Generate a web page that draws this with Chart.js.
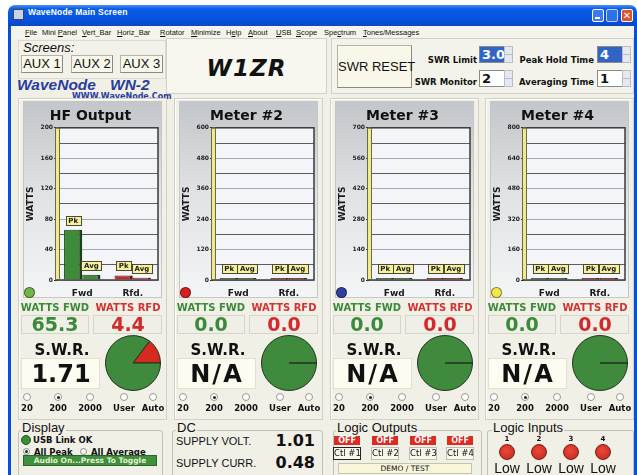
<!DOCTYPE html>
<html>
<head>
<meta charset="utf-8">
<title>WaveNode Main Screen</title>
<script src="https://cdn.jsdelivr.net/npm/chart.js@4.4.1/dist/chart.umd.min.js"></script>
<style>
  body { margin:0; width:637px; height:475px; overflow:hidden; background:#fff; position:relative;
         font-family:"DejaVu Sans", sans-serif; color:#111; }
  .a { position:absolute; box-sizing:border-box; white-space:nowrap; }
  .btn { background:#f9f7e9; border:1px solid #b4b2a4; border-right-color:#8c8a80; border-bottom-color:#8c8a80;
         text-align:center; font-family:"Liberation Sans", sans-serif; }
  .grp { border:1px solid #c4c1b4; border-radius:3px; }
  .grp-t { background:#f1f0e7; padding:0 1px; font-family:"Liberation Sans", sans-serif; font-size:13px; line-height:14px; }
  .spin { border:1px solid #8d8b80; border-right:none; font-weight:bold; font-size:13px; line-height:15px; padding-left:2px; }
  .arr { width:9px; height:17px; background:#e6e8f0; border:1px solid #b8bccb; }
  .arr:after { content:""; position:absolute; left:0; top:7px; width:7px; border-top:1px solid #b8bccb; }
  .menu { font-family:"Liberation Sans", sans-serif; font-size:7.5px; top:28px; line-height:10px; }
  .menu u { text-decoration:underline; }
</style>
</head>
<body>

<!-- marco de la ventana -->
<div class="a" style="left:8px;top:5px;width:629px;height:21px;border-radius:7px 7px 0 0;background:linear-gradient(#4a90f6 0%,#0c5de8 18%,#0653de 65%,#0a49c6 100%)"></div>
<div class="a" style="left:8px;top:26px;width:3px;height:449px;background:#0b4fd6"></div>
<div class="a" style="left:634px;top:26px;width:3px;height:449px;background:#0b4fd6"></div>
<div class="a" style="left:11px;top:26px;width:623px;height:449px;background:#f1f0e7"></div>
<div class="a" style="left:13px;top:9px;width:11px;height:11px;background:#c9d3e8;border:1px solid #445"></div>
<div class="a" style="left:28px;top:7px;line-height:16px;color:#fff;font:bold 8.5px 'Liberation Sans',sans-serif;letter-spacing:0.2px">WaveNode Main Screen</div>
<div class="a" style="left:592px;top:9px;width:12px;height:13px;border:1px solid #fff;border-radius:2px;background:#3a7cf0"></div>
<div class="a" style="left:595px;top:17px;width:5px;height:2px;background:#fff"></div>
<div class="a" style="left:606px;top:9px;width:12px;height:13px;border:1px solid #fff;border-radius:2px;background:#3a7cf0;opacity:.75"></div>
<div class="a" style="left:621px;top:9px;width:12px;height:13px;border:1px solid #fff;border-radius:2px;background:#e0502a;color:#fff;font:bold 10px 'DejaVu Sans';line-height:11px;text-align:center">✕</div>

<!-- barra de menu -->
<div class="a" style="left:11px;top:26px;width:623px;height:13px;background:#f5f4ec"></div>
<div class="a menu" style="left:25px"><u>F</u>ile</div>
<div class="a menu" style="left:42px">Mini <u>P</u>anel</div>
<div class="a menu" style="left:82px"><u>V</u>ert_Bar</div>
<div class="a menu" style="left:117px"><u>H</u>oriz_Bar</div>
<div class="a menu" style="left:160px"><u>R</u>otator</div>
<div class="a menu" style="left:191px"><u>M</u>inimize</div>
<div class="a menu" style="left:226px">H<u>e</u>lp</div>
<div class="a menu" style="left:248px"><u>A</u>bout</div>
<div class="a menu" style="left:276px"><u>U</u>SB</div>
<div class="a menu" style="left:296px"><u>S</u>cope</div>
<div class="a menu" style="left:324px">Spe<u>c</u>trum</div>
<div class="a menu" style="left:363px"><u>T</u>ones/Messages</div>

<!-- cabecera -->
<div class="a" style="left:18px;top:40px;width:148px;height:39px;border:1px solid #dddbd0;background:#f3f2ea"></div>
<div class="a" style="left:23px;top:41px;font:italic 13px 'Liberation Sans',sans-serif;line-height:14px">Screens:</div>
<div class="a btn" style="left:21px;top:55px;width:42px;height:18px;font-size:13px;line-height:16px">AUX 1</div>
<div class="a btn" style="left:71px;top:55px;width:42px;height:18px;font-size:13px;line-height:16px">AUX 2</div>
<div class="a btn" style="left:120px;top:55px;width:43px;height:18px;font-size:13px;line-height:16px">AUX 3</div>
<div class="a" style="left:17px;top:76px;font:italic bold 15.5px 'Liberation Sans',sans-serif;line-height:18px;color:#2a3c9e">WaveNode</div>
<div class="a" style="left:110px;top:76px;font:italic bold 15.5px 'Liberation Sans',sans-serif;line-height:18px;color:#2a3c9e">WN-2</div>
<div class="a" style="left:72px;top:92px;font:bold 8px 'DejaVu Sans',sans-serif;line-height:10px;color:#2a3c9e">WWW.WaveNode.Com</div>

<div class="a" style="left:166px;top:38px;width:161px;height:56px;border:1px solid #d2d0c4;background:#f7f6ef"></div>
<div class="a" style="left:166px;top:54px;width:161px;text-align:center;font:italic bold 23px 'DejaVu Sans',sans-serif;line-height:28px;letter-spacing:1px">W1ZR</div>

<div class="a" style="left:331px;top:38px;width:303px;height:56px;border:1px solid #d2d0c4;background:#f4f3eb"></div>
<div class="a btn" style="left:337px;top:45px;width:75px;height:43px;font-size:13px;line-height:41px">SWR RESET</div>
<div class="a" style="left:377px;top:53px;width:100px;text-align:right;font:bold 8.5px 'DejaVu Sans';line-height:14px">SWR Limit</div>
<div class="a" style="left:377px;top:75px;width:100px;text-align:right;font:bold 8.5px 'DejaVu Sans';line-height:14px">SWR Monitor</div>
<div class="a" style="left:494px;top:53px;width:100px;text-align:right;font:bold 8.5px 'DejaVu Sans';line-height:14px">Peak Hold Time</div>
<div class="a" style="left:494px;top:75px;width:100px;text-align:right;font:bold 8.5px 'DejaVu Sans';line-height:14px">Averaging Time</div>
<div class="a spin" style="left:479px;top:46px;width:25px;height:17px;background:#3264c8;color:#fff">3.0</div>
<div class="a arr" style="left:504px;top:46px"></div>
<div class="a spin" style="left:597px;top:46px;width:25px;height:17px;background:#3264c8;color:#fff">4</div>
<div class="a arr" style="left:622px;top:46px"></div>
<div class="a spin" style="left:479px;top:70px;width:25px;height:17px;background:#fff">2</div>
<div class="a arr" style="left:504px;top:70px"></div>
<div class="a spin" style="left:597px;top:70px;width:25px;height:17px;background:#fff">1</div>
<div class="a arr" style="left:622px;top:70px"></div>

<!-- Display -->
<div class="a grp" style="left:18px;top:430px;width:145px;height:50px"></div>
<div class="a grp-t" style="left:21px;top:421px">Display</div>
<div class="a" style="left:21px;top:435px;width:10px;height:10px;border-radius:50%;background:#3c8c3a;border:1px solid #24521f"></div>
<div class="a" style="left:33px;top:434px;font:bold 8.5px 'DejaVu Sans';line-height:12px">USB Link OK</div>
<div class="a" style="left:23px;top:448px;width:7px;height:7px;border-radius:50%;background:#fff;border:1px solid #8a887c"></div>
<div class="a" style="left:25px;top:450px;width:3px;height:3px;border-radius:50%;background:#222"></div>
<div class="a" style="left:34px;top:446px;font:bold 8.5px 'DejaVu Sans';line-height:12px">All Peak</div>
<div class="a" style="left:80px;top:448px;width:7px;height:7px;border-radius:50%;background:#fff;border:1px solid #8a887c"></div>
<div class="a" style="left:91px;top:446px;font:bold 8.5px 'DejaVu Sans';line-height:12px">All Average</div>
<div class="a" style="left:23px;top:455px;width:134px;height:11px;background:#3f8f3c;border:1px solid #2a652a;color:#e6f0d2;text-align:center;font:bold 7.5px 'DejaVu Sans';line-height:9px">Audio On...Press To Toggle</div>

<!-- DC -->
<div class="a grp" style="left:172px;top:430px;width:151px;height:50px"></div>
<div class="a grp-t" style="left:176px;top:421px">DC</div>
<div class="a" style="left:176px;top:434px;font:11px 'Liberation Sans',sans-serif;line-height:14px">SUPPLY VOLT.</div>
<div class="a" style="left:215px;top:431px;width:100px;text-align:right;font:bold 16px 'DejaVu Sans';line-height:20px">1.01</div>
<div class="a" style="left:176px;top:456px;font:11px 'Liberation Sans',sans-serif;line-height:14px">SUPPLY CURR.</div>
<div class="a" style="left:215px;top:453px;width:100px;text-align:right;font:bold 16px 'DejaVu Sans';line-height:20px">0.48</div>

<!-- Logic Outputs -->
<div class="a grp" style="left:333px;top:430px;width:149px;height:50px"></div>
<div class="a grp-t" style="left:336px;top:421px">Logic Outputs</div>
<div class="a" style="left:338px;top:463px;width:134px;height:11px;background:#f9f6dc;border:1px solid #c8c4a8;text-align:center;font:7.5px 'DejaVu Sans';line-height:9px">DEMO / TEST</div>

<!-- Logic Inputs -->
<div class="a grp" style="left:487px;top:430px;width:147px;height:50px"></div>
<div class="a grp-t" style="left:492px;top:421px">Logic Inputs</div>

<script>
// Datos de los medidores
const meterTitles = ["HF Output", "Meter #2", "Meter #3", "Meter #4"];
const categories = ["Fwd", "Rfd."];
const scaleMax = [200, 600, 700, 800];
const peakFwd = [66, 0, 0, 0];
const peakRfd = [6, 0, 0, 0];
const avgFwd = [7, 0, 0, 0];
const avgRfd = [3, 0, 0, 0];
const wattsFwd = ["65.3", "0.0", "0.0", "0.0"];
const wattsRfd = ["4.4", "0.0", "0.0", "0.0"];
const swrText = ["1.71", "N/A", "N/A", "N/A"];
const swrWedge = [53, 0, 0, 0];      // grados en rojo del indicador SWR
const rangeLabels = ["20", "200", "2000", "User", "Auto"];
const rangeSelected = 1;
const outputStates = ["OFF", "OFF", "OFF", "OFF"];
const outputNames = ["Ctl #1", "Ctl #2", "Ctl #3", "Ctl #4"];
const inputNames = ["1", "2", "3", "4"];
const inputStates = ["Low", "Low", "Low", "Low"];

const panelLeft = [23, 179, 335, 490];
const dotColors = ["#72b646", "#d82020", "#2f40a0", "#f2e84c"];
const barFill = ["#3e8b3a", "#c4282a"];
const barEdge = ["#1d401b", "#5e1010"];

function el(css, html) {
  const d = document.createElement("div");
  d.className = "a";
  d.style.cssText = css;
  if (html !== undefined) d.innerHTML = html;
  document.body.appendChild(d);
  return d;
}

// y = centro vertical del texto
function txt(x, y, text, css, align) {
  let pos = "left:" + x + "px;";
  if (align === "c") pos = "left:" + (x - 100) + "px;width:200px;text-align:center;";
  if (align === "r") pos = "left:" + (x - 200) + "px;width:200px;text-align:right;";
  return el(pos + "top:" + (y - 12) + "px;height:24px;" + css + ";line-height:24px;", text);
}

// Fondo del area de graficos y etiquetas Pk/Avg
const framePlugin = {
  id: "frame",
  beforeDraw(chart) {
    const { ctx, chartArea: a } = chart;
    if (chart.config.type !== "bar") return;
    ctx.save();
    ctx.fillStyle = "#f3f5f9";
    ctx.fillRect(a.left, a.top, a.right - a.left, a.bottom - a.top);
    ctx.restore();
  },
  afterDraw(chart) {
    const { ctx, chartArea: a } = chart;
    if (chart.config.type !== "bar") return;
    ctx.save();
    ctx.strokeStyle = "#3a3a3a";
    ctx.lineWidth = 1.5;
    ctx.strokeRect(a.left, a.top, a.right - a.left, a.bottom - a.top);
    ctx.fillStyle = "#f2ea8a";
    ctx.fillRect(a.left - 1, a.top, 3, a.bottom - a.top);
    ctx.strokeStyle = "#6a6a50";
    ctx.lineWidth = 1;
    ctx.strokeRect(a.left - 1.5, a.top + 0.5, 4, a.bottom - a.top - 1);
    ctx.restore();
  },
  afterDatasetsDraw(chart) {
    if (chart.config.type !== "bar") return;
    const ctx = chart.ctx;
    ctx.save();
    ctx.font = "bold 7px 'DejaVu Sans'";
    ctx.textAlign = "center";
    ctx.textBaseline = "middle";
    chart.data.datasets.forEach((ds, i) => {
      chart.getDatasetMeta(i).data.forEach(bar => {
        const w = Math.round(ctx.measureText(ds.label).width + 5);
        const h = 9;
        const x = Math.round(bar.x - w / 2) + 0.5;
        const y = Math.round(bar.y - 5 - h) + 0.5;
        ctx.fillStyle = "#f7f09c";
        ctx.fillRect(x, y, w, h);
        ctx.strokeStyle = "#4a4a30";
        ctx.strokeRect(x, y, w, h);
        ctx.fillStyle = "#1a1a1a";
        ctx.fillText(ds.label, bar.x, y + h / 2 + 0.5);
      });
    });
    ctx.restore();
  }
};
Chart.register(framePlugin);

const fontTick = { family: "DejaVu Sans", weight: "bold", size: 6 };

for (let i = 0; i < 4; i++) {
  const px = panelLeft[i];
  const off = px - 23;

  // marco de la columna y panel del grafico
  el("left:" + (px - 5) + "px;top:98px;width:149px;height:322px;border:1px solid #d2d0c4;box-shadow:inset 1px 1px 0 #fff");
  el("left:" + px + "px;top:101px;width:139px;height:197px;border:1px solid #c4c6c8;background:linear-gradient(#c3c6ca 0%,#dfe1e3 45%,#f4f5f6 100%)");

  const cv = document.createElement("canvas");
  cv.width = 139; cv.height = 196;
  cv.style.cssText = "position:absolute;left:" + px + "px;top:102px;";
  document.body.appendChild(cv);

  new Chart(cv, {
    type: "bar",
    data: {
      labels: categories,
      datasets: [
        { label: "Pk", data: [peakFwd[i], peakRfd[i]], backgroundColor: barFill, borderColor: barEdge,
          borderWidth: { top: 1, left: 1, right: 3, bottom: 0 }, borderSkipped: "start" },
        { label: "Avg", data: [avgFwd[i], avgRfd[i]], backgroundColor: barFill, borderColor: barEdge,
          borderWidth: { top: 1, left: 1, right: 3, bottom: 0 }, borderSkipped: "start" }
      ]
    },
    options: {
      responsive: false,
      animation: false,
      events: [],
      layout: { padding: { left: 0, right: 4, top: 0, bottom: 0 } },
      datasets: { bar: { barPercentage: 1, categoryPercentage: 0.72, minBarLength: 2 } },
      plugins: {
        legend: { display: false },
        tooltip: { enabled: false },
        title: { display: true, text: meterTitles[i], color: "#111",
                 font: { family: "DejaVu Sans", weight: "bold", size: 14 }, padding: { top: 6, bottom: 3 } }
      },
      scales: {
        x: {
          grid: { display: false },
          border: { display: false },
          ticks: { color: "#1a1a1a", font: { family: "DejaVu Sans", weight: "bold", size: 9 }, padding: 0 },
          afterFit: s => { s.height = 18; }
        },
        y: {
          min: 0,
          max: scaleMax[i],
          border: { display: false },
          ticks: { stepSize: scaleMax[i] / 10, autoSkip: false, color: "#222", font: fontTick, padding: 1,
                   callback: (v, k) => (k % 2 ? "" : v) },
          grid: { color: c => (c.index % 2 ? "#5c5c5c" : "#a6aaae"), tickLength: 3,
                  tickColor: c => (c.index % 2 ? "rgba(0,0,0,0)" : "#333") },
          title: { display: true, text: "WATTS", color: "#1a1a1a",
                   font: { family: "DejaVu Sans", weight: "bold", size: 9 }, padding: { top: 2, bottom: 0 } },
          afterFit: s => { s.width = 34; }
        }
      }
    }
  });

  // indicador de color
  el("left:" + (px + 1) + "px;top:287px;width:11px;height:11px;border-radius:50%;background:" + dotColors[i] + ";border:1px solid rgba(0,0,0,.45)");

  // potencias
  txt(55 + off, 308, "WATTS FWD", "font:bold 10px 'DejaVu Sans';color:#3b8a3a", "c");
  txt(128 + off, 308, "WATTS RFD", "font:bold 10px 'DejaVu Sans';color:#d23232", "c");
  el("left:" + (21 + off) + "px;top:315px;width:68px;height:19px;border:1px solid #d6d5ca;background:#efeee7");
  el("left:" + (93 + off) + "px;top:315px;width:69px;height:19px;border:1px solid #d6d5ca;background:#efeee7");
  txt(55 + off, 324, wattsFwd[i], "font:bold 19px 'DejaVu Sans';color:#3b8a3a", "c");
  txt(128 + off, 324, wattsRfd[i], "font:bold 19px 'DejaVu Sans';color:#d22a2a", "c");

  // SWR
  txt(62 + off, 350, "S.W.R.", "font:bold 15px 'DejaVu Sans'", "c");
  el("left:" + (21 + off) + "px;top:358px;width:79px;height:31px;border:1px solid #e2e0d2;background:#fdfcf0");
  txt(61 + off, 374, swrText[i], "font:bold 24px 'DejaVu Sans';letter-spacing:" + (swrText[i] === "N/A" ? 2 : 0) + "px", "c");

  const pc = document.createElement("canvas");
  pc.width = 58; pc.height = 58;
  pc.style.cssText = "position:absolute;left:" + (104 + off) + "px;top:334px;";
  document.body.appendChild(pc);
  new Chart(pc, {
    type: "pie",
    data: {
      datasets: [{
        data: [swrWedge[i], 360 - swrWedge[i]],
        backgroundColor: ["#d62a20", "#3f8a3c"],
        borderColor: "#1f331f",
        borderWidth: 1
      }]
    },
    options: {
      responsive: false,
      animation: false,
      events: [],
      rotation: 90 - swrWedge[i],
      layout: { padding: 1 },
      plugins: { legend: { display: false }, tooltip: { enabled: false } }
    }
  });

  // selector de rango
  const rx = [27, 58, 90, 124, 153];
  rangeLabels.forEach((r, k) => {
    el("left:" + (rx[k] - 4 + off) + "px;top:393px;width:8px;height:8px;border-radius:50%;background:#fff;border:1px solid #9a988c");
    if (k === rangeSelected) el("left:" + (rx[k] - 1.5 + off) + "px;top:395.5px;width:3px;height:3px;border-radius:50%;background:#222");
    txt(rx[k] + off, 408, r, "font:bold 8.5px 'DejaVu Sans'", "c");
  });
}

// salidas logicas
const outX = [334, 372, 410, 447];
outputStates.forEach((s, k) => {
  el("left:" + outX[k] + "px;top:436px;width:26px;height:9px;background:#dd2a22;color:#fff;text-align:center;font:bold 8px 'DejaVu Sans';line-height:9px", s);
  el("left:" + (outX[k] - 1) + "px;top:447px;width:28px;height:13px;background:#f9f7ea;border:1px solid " + (k === 0 ? "#222" : "#c0bdb0") + ";text-align:center;font:8.5px 'DejaVu Sans';line-height:11px", outputNames[k]);
});

// entradas logicas
const inX = [507, 539, 571, 603];
inputStates.forEach((s, k) => {
  txt(inX[k], 439, inputNames[k], "font:bold 7px 'DejaVu Sans'", "c");
  el("left:" + (inX[k] - 8) + "px;top:444px;width:16px;height:16px;border-radius:50%;background:radial-gradient(circle at 45% 40%,#e84a3c,#c8241c);border:1px solid #7a1a14");
  txt(inX[k], 468, s, "font:14px 'Liberation Sans',sans-serif", "c");
});
</script>
</body>
</html>
